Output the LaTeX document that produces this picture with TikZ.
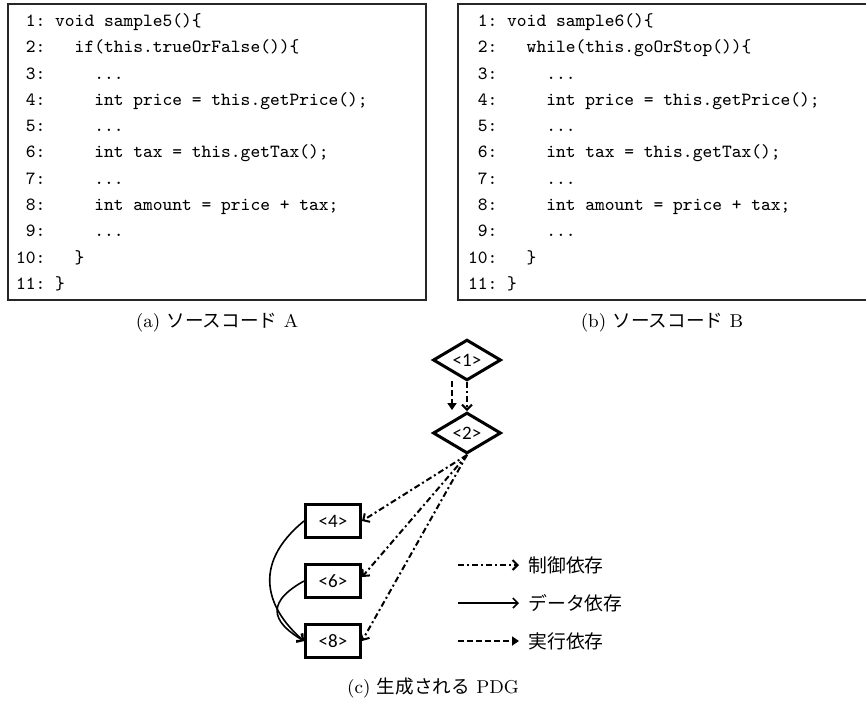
\documentclass[tikz,border=0pt]{standalone}
\usepackage{fontspec}
\newfontfamily\jpfont{Noto Sans CJK JP}
\newfontfamily\lblfont{Carlito}
\usepackage{tikz}
\usetikzlibrary{shapes,arrows,positioning,calc,arrows.meta}

\tikzset{
  codeframe/.style={line width=0.6pt, black!85},
  listing/.style={inner sep=0pt, anchor=north west, font=\fontsize{9.3}{13.15}\selectfont\ttfamily},
  caption/.style={inner sep=1pt, font=\fontsize{9.3}{11}\selectfont},
  cond/.style={diamond, draw, line width=1.5pt, minimum width=34pt, minimum height=20pt, inner sep=0pt, font=\lblfont\fontsize{9.5}{11}\selectfont},
  stmt/.style={rectangle, draw, line width=1.5pt, minimum width=27.5pt, minimum height=16.5pt, inner sep=0pt, font=\lblfont\fontsize{9.5}{11}\selectfont},
  ctrldep/.style={line width=1pt, dash pattern=on 3pt off 1.5pt on 1pt off 1.5pt, -{Straight Barb[length=2.5pt,width=5pt]}},
  datadep/.style={line width=0.8pt, -{Straight Barb[length=2.5pt,width=5pt]}},
  execdep/.style={line width=1pt, dash pattern=on 3pt off 1.5pt, -{Triangle[length=3.5pt,width=4.5pt]}},
  legendtext/.style={anchor=west, inner sep=4.5pt, font=\jpfont\fontsize{9.4}{11}\selectfont}
}

\begin{document}
\begin{tikzpicture}[x=0.5pt,y=-0.5pt]
    \useasboundingbox (0,0) rectangle (866,702);

    % Source code A
    \draw[codeframe] (8,4) rectangle (426,300);
    \node[listing] (codeA) at (15.75,7.6) {%
      \begin{tabular}{@{}r@{\ }l@{}}
        1: & void sample5()\{\\
        2: & \ \ if(this.trueOrFalse())\{\\
        3: & \ \ \ \ ...\\
        4: & \ \ \ \ int price = this.getPrice();\\
        5: & \ \ \ \ ...\\
        6: & \ \ \ \ int tax = this.getTax();\\
        7: & \ \ \ \ ...\\
        8: & \ \ \ \ int amount = price + tax;\\
        9: & \ \ \ \ ...\\
        10: & \ \ \}\\
        11: & \}
      \end{tabular}};
    \node[caption] (capA) at (217,323) {(a) {\jpfont ソースコード} A};

    % Source code B
    \draw[codeframe] (870,4) -- (458,4) -- (458,300) -- (870,300);
    \node[listing] (codeB) at (467.75,7.6) {%
      \begin{tabular}{@{}r@{\ }l@{}}
        1: & void sample6()\{\\
        2: & \ \ while(this.goOrStop())\{\\
        3: & \ \ \ \ ...\\
        4: & \ \ \ \ int price = this.getPrice();\\
        5: & \ \ \ \ ...\\
        6: & \ \ \ \ int tax = this.getTax();\\
        7: & \ \ \ \ ...\\
        8: & \ \ \ \ int amount = price + tax;\\
        9: & \ \ \ \ ...\\
        10: & \ \ \}\\
        11: & \}
      \end{tabular}};
    \node[caption] (capB) at (662,323) {(b) {\jpfont ソースコード} B};

    % PDG nodes
    \node[cond] (n1) at (467,360) {<1>};
    \node[cond] (n2) at (467,433) {<2>};
    \node[stmt] (n4) at (333,521) {<4>};
    \node[stmt] (n6) at (333,581) {<6>};
    \node[stmt] (n8) at (333,641) {<8>};

    % Dependencies
    \draw[execdep] ($(n1.south)+(-15,-1)$) -- ($(n2.north)+(-15,-1)$);
    \draw[ctrldep] (n1.south) -- (n2.north);
    \draw[ctrldep] (n2.south) -- (n4.east);
    \draw[ctrldep] (n2.south) -- ([yshift=2pt]n6.east);
    \draw[ctrldep] (n2.south) -- (n8.east);
    \draw[datadep] (n4.west) .. controls +(-55,45) and +(-35,-30) .. (n8.west);
    \draw[datadep] (n6.west) .. controls +(-45,25) and +(-25,-15) .. (n8.west);

    % Legend
    \coordinate (lgctrl) at (458,565);
    \coordinate (lgdata) at (458,603);
    \coordinate (lgexec) at (458,641);
    \node[legendtext] (ctrltext) at (519,565) {制御依存};
    \node[legendtext] (datatext) at (519,603) {データ依存};
    \node[legendtext] (exectext) at (519,641) {実行依存};
    \draw[ctrldep] (lgctrl) -- (ctrltext.west);
    \draw[datadep] (lgdata) -- (datatext.west);
    \draw[execdep] (lgexec) -- (exectext.west);

    \node[caption] (capC) at (433,688) {(c) {\jpfont 生成される} PDG};
\end{tikzpicture}
\end{document}
